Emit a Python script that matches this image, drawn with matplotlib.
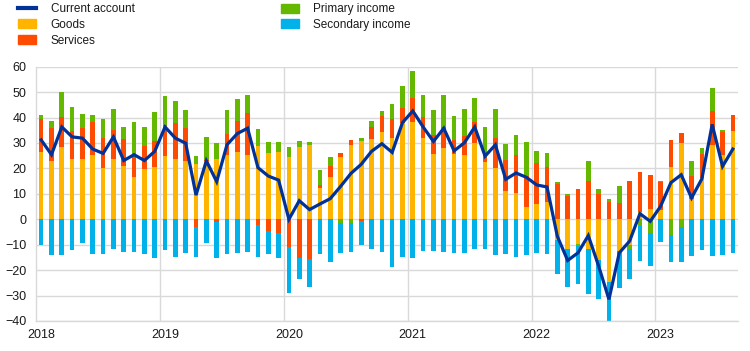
import numpy as np
import matplotlib
matplotlib.use("Agg")
import matplotlib.pyplot as plt
from matplotlib.patches import Patch
from matplotlib.lines import Line2D

# ---------------------------------------------------------------------------
# data (EUR billions, monthly, Jan 2018 - Aug 2023)
# ---------------------------------------------------------------------------
years = ["2018", "2019", "2020", "2021", "2022", "2023"]

goods = [26.5, 23.0, 28.5, 23.8, 23.8, 25.4, 20.3, 23.8, 21.0, 16.7, 19.9, 20.7,
         25.0, 23.8, 23.0, 21.8, 23.0, 23.8, 25.4, 26.5, 25.4, 28.9, 26.1, 26.5,
         24.6, 28.5, 29.3, 12.4, 16.7, 24.6, 29.3, 30.8, 31.6, 34.4, 32.0, 37.9,
         38.3, 32.0, 25.8, 28.1, 25.8, 25.4, 30.1, 22.6, 20.3, 11.2, 10.5, 5.0,
         6.1, 6.9, -8.2, -11.8, -9.9, -11.8, -16.1, -24.8, -12.5, -10.2, 3.0, 4.2,
         3.5, 20.7, 30.1, 8.1, 16.2, 29.3, 25.4, 34.8]

services = [13.0, 12.9, 11.8, 11.0, 12.1, 12.9, 11.7, 11.4, 10.6, 7.9, 9.0, 10.1,
            12.1, 14.1, 12.9, -3.1, 0.5, -1.2, 8.2, 12.2, 16.4, -2.4, -4.6, -5.5,
            -11.0, -15.4, -15.8, 1.2, 4.3, 1.5, 1.9, -0.5, 4.7, 6.3, 7.5, 5.9,
            9.4, 8.3, 7.4, 8.2, 5.4, 7.4, 8.2, 2.0, 11.7, 12.2, 14.9, 12.1,
            16.1, 13.8, 14.0, 9.3, 12.0, 15.2, 10.1, 6.9, 6.5, 15.2, 15.7, 13.3,
            11.3, 10.5, 3.9, 9.0, 9.6, 13.3, 9.0, 6.2]

primary = [1.5, 2.8, 9.8, 9.4, 5.5, 2.7, 7.5, 8.2, 4.7, 13.7, 7.4, 11.4,
           11.4, 8.6, 7.1, 3.2, 9.0, 6.3, 9.4, 8.6, 7.1, 6.7, 4.4, 4.0,
           3.9, 2.3, 1.2, 5.9, 3.6, -1.6, -1.3, 1.2, 2.4, 1.9, 5.9, 8.6,
           10.6, 8.6, 9.8, 12.6, 9.5, 10.6, 9.4, 11.7, 11.4, 6.3, 7.8, 13.4,
           4.7, 5.4, 0.8, 0.8, -0.7, 7.8, 1.9, 1.2, 6.7, -1.6, -2.7, -5.4,
           0.4, -6.0, -2.9, 5.9, 2.3, 9.0, 0.8, 0.0]

secondary = [-10.2, -13.9, -13.9, -11.9, -9.5, -13.5, -13.5, -11.5, -13.0, -13.0, -13.5, -15.4,
             -12.2, -14.9, -13.3, -11.8, -9.4, -14.1, -13.7, -13.3, -12.9, -12.5, -9.1, -9.8,
             -18.0, -8.1, -10.9, -13.7, -16.9, -11.7, -11.6, -9.7, -11.8, -12.9, -18.8, -14.9,
             -15.3, -12.5, -12.5, -12.9, -13.3, -13.3, -11.8, -11.8, -14.1, -13.7, -14.9, -14.1,
             -13.3, -13.7, -13.4, -14.9, -14.9, -17.6, -15.3, -15.2, -14.6, -11.7, -13.8, -13.0,
             -9.0, -10.9, -14.0, -14.5, -12.2, -14.5, -14.1, -13.3]

current = [31.2, 25.4, 36.3, 32.4, 31.9, 27.6, 25.9, 32.4, 23.1, 25.4, 23.1, 26.7,
           36.3, 31.9, 29.9, 9.5, 23.0, 14.8, 29.3, 33.7, 35.8, 20.3, 17.0, 15.4,
           0.0, 7.3, 3.8, 6.0, 8.1, 12.9, 18.0, 21.6, 26.7, 29.7, 26.3, 38.0,
           42.6, 36.3, 30.6, 35.8, 26.9, 30.1, 36.3, 24.8, 29.3, 15.7, 18.2, 16.5,
           13.5, 12.7, -6.7, -16.2, -13.2, -6.4, -18.4, -31.5, -13.2, -8.6, 2.2, -0.8,
           5.1, 14.4, 17.5, 8.4, 15.9, 37.3, 20.8, 27.6]

# ---------------------------------------------------------------------------
# style
# ---------------------------------------------------------------------------
BLUE   = "#003299"
YELLOW = "#ffb400"
ORANGE = "#ff4b00"
GREEN  = "#65b800"
CYAN   = "#00b1ea"
GRID   = "#d9d9d9"
TEXT   = "#1a1a1a"

plt.rcParams["font.family"] = ["Liberation Sans", "DejaVu Sans"]

fig = plt.figure(figsize=(7.5, 3.51), dpi=100)
ax = fig.add_axes([0.048, 0.0855, 0.936, 0.7245])

x = np.arange(len(goods))
pos_bottom = np.zeros(len(x))
neg_bottom = np.zeros(len(x))
for vals, col in [(goods, YELLOW), (services, ORANGE), (primary, GREEN), (secondary, CYAN)]:
    v = np.asarray(vals, dtype=float)
    base = np.where(v >= 0, pos_bottom, neg_bottom)
    ax.bar(x, v, bottom=base, width=0.45, color=col, linewidth=0, zorder=2)
    pos_bottom += np.clip(v, 0, None)
    neg_bottom += np.clip(v, None, 0)

ax.plot(x, current, color=BLUE, linewidth=2.3, solid_joinstyle="miter", zorder=3)

ax.set_xlim(-0.5, len(x) - 0.5)
ax.set_ylim(-40, 60)
ax.set_yticks(np.arange(-40, 61, 10))
ax.set_xticks(np.arange(0, len(x), 12))
ax.set_xticklabels(years)
ax.set_xticks(np.arange(11.5, len(x), 12), minor=True)

ax.grid(True, axis="y", which="major", color=GRID, linewidth=1.0, zorder=0)
ax.grid(True, axis="x", which="minor", color=GRID, linewidth=1.0, zorder=0)
ax.grid(False, axis="x", which="major")
ax.set_axisbelow(True)
for side in ("top", "right"):
    ax.spines[side].set_visible(False)
for side in ("left", "bottom"):
    ax.spines[side].set_color(GRID)
    ax.spines[side].set_linewidth(1.0)
ax.tick_params(axis="both", which="both", length=0, labelsize=9, colors=TEXT)
ax.tick_params(axis="y", pad=7)
ax.tick_params(axis="x", pad=6)

handles = [Line2D([], [], color=BLUE, linewidth=3),
           Patch(color=YELLOW), Patch(color=ORANGE),
           Patch(color=GREEN), Patch(color=CYAN)]
labels = ["Current account", "Goods", "Services", "Primary income", "Secondary income"]
fig.legend(handles, labels, loc="upper left", bbox_to_anchor=(17 / 750, 1 - 2 / 351),
           ncol=2, frameon=False, borderaxespad=0, borderpad=0.1,
           handlelength=1.55, handleheight=0.8, handletextpad=1.2,
           labelspacing=0.32, columnspacing=12.4,
           prop={"size": 8.5}, labelcolor=TEXT)

fig.savefig("out.png", dpi=100, facecolor="white")
